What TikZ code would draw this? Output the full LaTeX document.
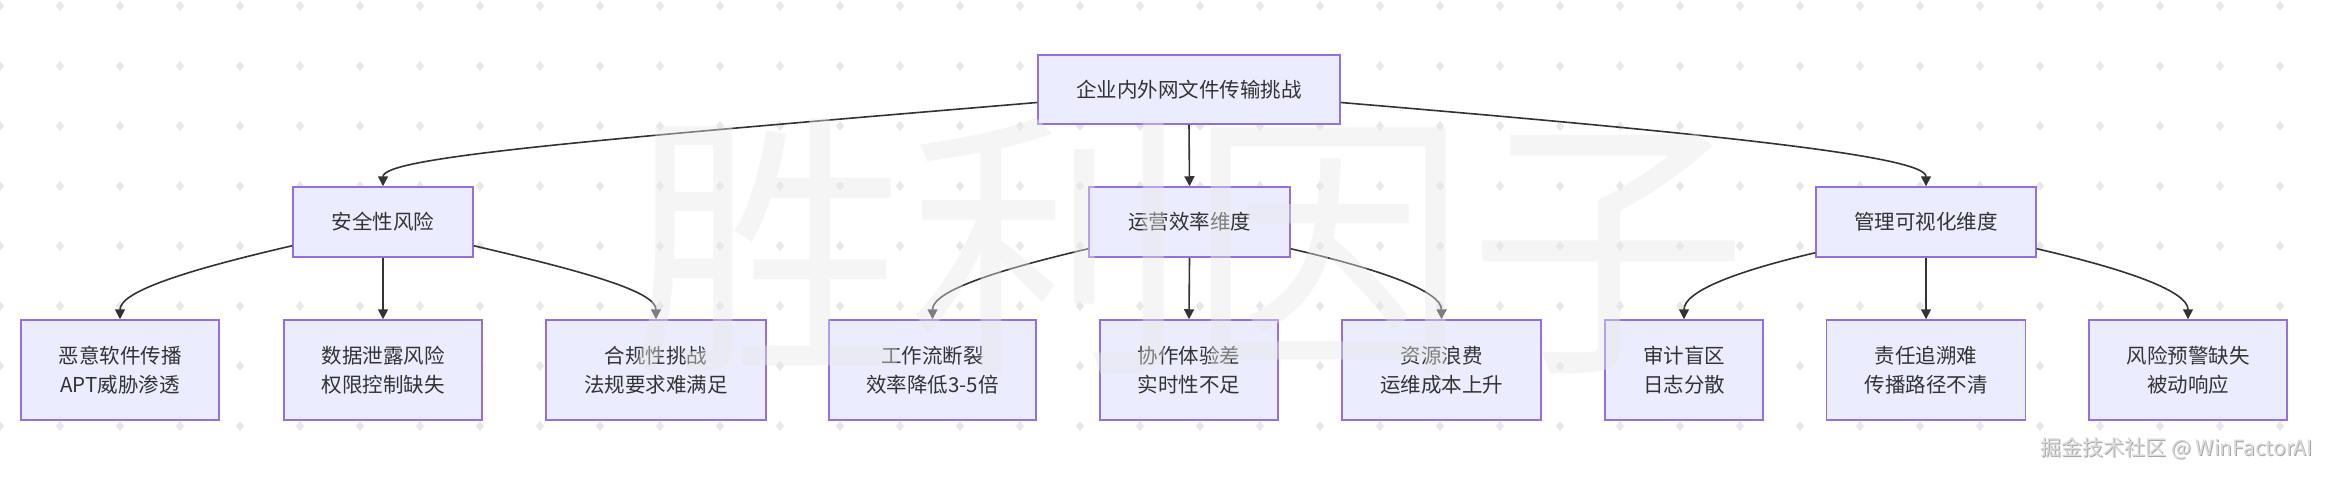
\documentclass[tikz,border=0pt]{standalone}
\usepackage{fontspec}
\newfontfamily\cjk{Noto Sans CJK SC}
\usetikzlibrary{arrows.meta,calc}
\definecolor{boxfill}{HTML}{ECECFF}
\definecolor{boxline}{HTML}{9370DB}
\definecolor{ink}{HTML}{333333}
\definecolor{dotc}{HTML}{E8E8E8}
\definecolor{wm}{HTML}{E8E8E8}
\begin{document}
\begin{tikzpicture}[x=1pt,y=-1pt,
  box/.style={draw=boxline, fill=boxfill, line width=1.5pt, text=ink,
    font=\cjk\fontsize{20.5}{29.5}\selectfont, align=center, inner sep=0pt},
  leaf/.style={box, minimum height=100pt},
  mid/.style={box, minimum height=70pt},
  edge/.style={draw=ink, line width=1.6pt, -{Triangle[length=10pt,width=10pt]}}]
\useasboundingbox (0,0) rectangle (2331,479);
\fill[white] (0,0) rectangle (2331,479);
% dot grid
\foreach \i in {0,...,38}{
  \foreach \j in {0,...,7}{
    \fill[dotc] (\i*60, 6+\j*60) +(0,-5) -- +(4,0) -- +(0,5) -- +(-4,0) -- cycle;
  }
}
% nodes
\node[box, minimum width=302pt, minimum height=69pt] (root) at (1189,89.5) {企业内外网文件传输挑战};
\node[mid, minimum width=180pt] (sec) at (383,222) {安全性风险};
\node[mid, minimum width=201pt] (ops) at (1189.5,222) {运营效率维度};
\node[mid, minimum width=220pt] (mgmt) at (1926,222) {管理可视化维度};
\node[leaf, minimum width=198pt] (l1) at (120,370) {恶意软件传播\\APT威胁渗透};
\node[leaf, minimum width=198pt] (l2) at (383,370) {数据泄露风险\\权限控制缺失};
\node[leaf, minimum width=220pt] (l3) at (656,370) {合规性挑战\\法规要求难满足};
\node[leaf, minimum width=207pt] (l4) at (932.5,370) {工作流断裂\\效率降低3-5倍};
\node[leaf, minimum width=178pt] (l5) at (1189,370) {协作体验差\\实时性不足};
\node[leaf, minimum width=199pt] (l6) at (1441.5,370) {资源浪费\\运维成本上升};
\node[leaf, minimum width=158pt] (l7) at (1684,370) {审计盲区\\日志分散};
\node[leaf, minimum width=199pt] (l8) at (1926,370) {责任追溯难\\传播路径不清};
\node[leaf, minimum width=198pt] (l9) at (2188,370) {风险预警缺失\\被动响应};
% edges
\draw[edge] ($(root.west)+(0,13)$) .. controls +(-450,37.7) and +(0,-29) .. (sec.north);
\draw[edge] (root.south) -- (ops.north);
\draw[edge] ($(root.east)+(0,13)$) .. controls +(401,33.6) and +(0,-29) .. (mgmt.north);
\draw[edge] ($(sec.south west)+(0,-12)$) .. controls +(-104,24) and +(0,-28) .. (l1.north);
\draw[edge] (sec.south) -- (l2.north);
\draw[edge] ($(sec.south east)+(0,-12)$) .. controls +(110,25.6) and +(0,-28) .. (l3.north);
\draw[edge] ($(ops.south west)+(0,-9)$) .. controls +(-94,22) and +(0,-28) .. (l4.north);
\draw[edge] (ops.south) -- (l5.north);
\draw[edge] ($(ops.south east)+(0,-9)$) .. controls +(91,21) and +(0,-28) .. (l6.north);
\draw[edge] ($(mgmt.south west)+(0,-5)$) .. controls +(-79,18.5) and +(0,-28) .. (l7.north);
\draw[edge] (mgmt.south) -- (l8.north);
\draw[edge] ($(mgmt.south east)+(0,-9)$) .. controls +(91,21) and +(0,-28) .. (l9.north);
% watermarks
\node[font=\cjk\fontsize{280}{300}\selectfont, text=wm, opacity=0.42, inner sep=0pt] (wmark) at (1188,246) {胜利因子};
\node[anchor=east, font=\cjk\fontsize{21}{24}\selectfont, text=gray!70, inner sep=0pt] (creditshadow) at (2314,449) {掘金技术社区 @ WinFactorAI};
\node[anchor=east, font=\cjk\fontsize{21}{24}\selectfont, text=black!14, inner sep=0pt] (credit) at (2313,448) {掘金技术社区 @ WinFactorAI};
\end{tikzpicture}
\end{document}
